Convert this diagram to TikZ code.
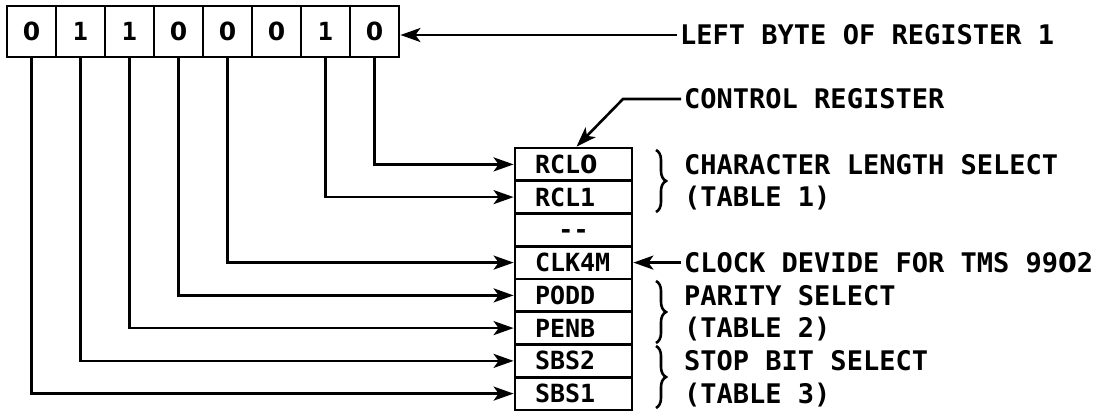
\documentclass[tikz,border=0pt]{standalone}
\usepackage{fontspec}
\newfontfamily\plotfont{DejaVu Sans Mono}[BoldFont={DejaVu Sans Mono Bold}]
\newfontfamily\plotsans{DejaVu Sans}[BoldFont={DejaVu Sans Bold}]
\usetikzlibrary{arrows.meta,decorations.pathreplacing}
\newcommand{\zr}{{\plotsans\bfseries 0}}
\begin{document}
\begin{tikzpicture}[x=1pt,y=-1pt,
  cell/.style={draw, line width=2.8pt, minimum width=49pt, minimum height=51pt, inner sep=0pt,
    font=\plotfont\bfseries\fontsize{25}{27}\selectfont, text height=18pt, text depth=0pt},
  crow/.style={draw, line width=2.8pt, minimum height=32.75pt, text width=77pt, inner xsep=20pt,
    inner ysep=0pt, align=left, font=\plotfont\bfseries\fontsize{25}{27}\selectfont, text height=18pt, text depth=0pt},
  lbl/.style={inner xsep=3pt, inner ysep=0pt, anchor=west, font=\plotfont\bfseries\fontsize{27}{29}\selectfont,
    text height=19.5pt, text depth=0pt},
  conn/.style={line width=2.6pt, -{Stealth[length=20pt,width=14pt,inset=5pt]}},
  brc/.style={line width=2.6pt, decorate, decoration={brace, amplitude=10pt}}
]
\useasboundingbox[fill=white] (0,0) rectangle (1094,414);

% top register (left byte of register 1)
\node[cell] (b0) at (31.5,31.5) {\zr};
\node[cell] (b1) at (80.5,31.5) {1};
\node[cell] (b2) at (129.5,31.5) {1};
\node[cell] (b3) at (178.5,31.5) {\zr};
\node[cell] (b4) at (227.5,31.5) {\zr};
\node[cell] (b5) at (276.5,31.5) {\zr};
\node[cell] (b6) at (325.5,31.5) {1};
\node[cell] (b7) at (374.5,31.5) {\zr};

% control register
\node[crow] (r1) at (573.5,164.4) {RCL\zr};
\node[crow] (r2) at (573.5,197.1) {RCL1};
\node[crow, align=center] (r3) at (573.5,229.9) {{-}{-}};
\node[crow] (r4) at (573.5,262.6) {CLK4M};
\node[crow] (r5) at (573.5,295.4) {PODD};
\node[crow] (r6) at (573.5,328.1) {PENB};
\node[crow] (r7) at (573.5,360.9) {SBS2};
\node[crow] (r8) at (573.5,393.6) {SBS1};

% connectors from bits
\draw[conn] (b7.south) |- (r1.west);
\draw[conn] (b6.south) |- (r2.west);
\draw[conn] (b4.south) |- (r4.west);
\draw[conn] (b3.south) |- (r5.west);
\draw[conn] (b2.south) |- (r6.west);
\draw[conn] (b1.south) |- (r7.west);
\draw[conn] (b0.south) |- (r8.west);

% labels
\node[lbl] (lb) at (677,35) {LEFT BYTE OF REGISTER 1};
\draw[conn] (lb.west) -- (lb.west -| b7.east);

\node[lbl] (cr) at (681,99) {CONTROL REGISTER};
\draw[conn] (cr.west) -- ++(-58,0) -- ([xshift=3pt]r1.north);

\node[lbl] (cl) at (681,164.4) {CHARACTER LENGTH SELECT};
\node[lbl] (t1) at (681,197.1) {(TABLE 1)};
\draw[brc] (656,150) -- (656,212);

\node[lbl] (ck) at (681,262.6) {CLOCK DEVIDE FOR TMS 99\zr2};
\draw[conn] (ck.west) -- (r4.east);

\node[lbl] (ps) at (681,295.4) {PARITY SELECT};
\node[lbl] (t2) at (681,328.1) {(TABLE 2)};
\draw[brc] (656,281) -- (656,343);

\node[lbl] (sb) at (681,360.9) {STOP BIT SELECT};
\node[lbl] (t3) at (681,393.6) {(TABLE 3)};
\draw[brc] (656,346) -- (656,408);
\end{tikzpicture}
\end{document}
